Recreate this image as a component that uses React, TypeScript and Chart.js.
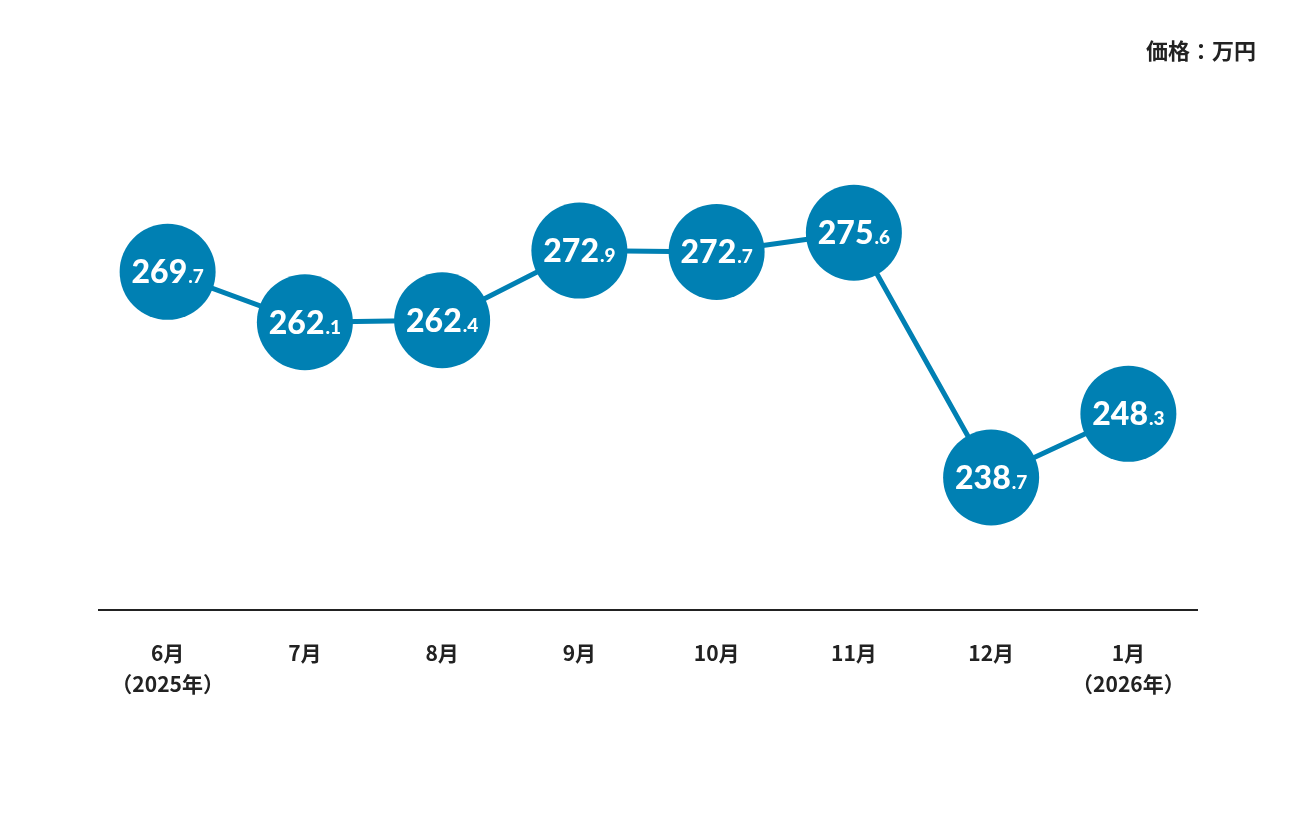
import React, { useEffect, useRef } from "react";
import { Chart, registerables } from "chart.js";

Chart.register(...registerables);

const months = ["6月", "7月", "8月", "9月", "10月", "11月", "12月", "1月"];
const yearNotes = ["（2025年）", "", "", "", "", "", "", "（2026年）"];
const prices = [269.7, 262.1, 262.4, 272.9, 272.7, 275.6, 238.7, 248.3];
const unitLabel = "価格：万円";

const BLUE = "#0080b3";
const TEXT = "#222222";
const JP = "'Noto Sans CJK JP', 'Noto Sans', sans-serif";
const NUM = "Lato, 'Noto Sans', sans-serif";

const labelsPlugin = {
  id: "valueLabels",
  afterDatasetsDraw(chart: any) {
    const ctx = chart.ctx;
    const meta = chart.getDatasetMeta(0);
    ctx.save();
    ctx.fillStyle = "#ffffff";
    ctx.textBaseline = "alphabetic";
    ctx.textAlign = "left";
    meta.data.forEach((pt: any, i: number) => {
      const s = prices[i].toFixed(1);
      const [ip, dp] = s.split(".");
      const big = "900 32px " + NUM;
      const small = "900 19px " + NUM;
      ctx.font = big;
      const w1 = ctx.measureText(ip).width;
      ctx.font = small;
      const w2 = ctx.measureText("." + dp).width;
      const x0 = pt.x - (w1 + w2 + 1) / 2;
      const base = pt.y + 11.5;
      ctx.font = big;
      ctx.fillText(ip, x0, base);
      ctx.font = small;
      ctx.fillText("." + dp, x0 + w1 + 1, base);
    });
    ctx.restore();
  },
};

const unitPlugin = {
  id: "unitLabel",
  afterDraw(chart: any) {
    const ctx = chart.ctx;
    ctx.save();
    ctx.fillStyle = TEXT;
    ctx.font = "bold 22px " + JP;
    ctx.textAlign = "right";
    ctx.textBaseline = "middle";
    ctx.fillText(unitLabel, 1256, 51);
    ctx.restore();
  },
};

export default function App() {
  const ref = useRef<HTMLCanvasElement | null>(null);
  useEffect(() => {
    if (!ref.current) return;
    const chart = new Chart(ref.current, {
      type: "line",
      data: {
        labels: months.map((m, i) => (yearNotes[i] ? [m, yearNotes[i]] : m)),
        datasets: [
          {
            data: prices,
            borderColor: BLUE,
            backgroundColor: BLUE,
            borderWidth: 5,
            pointRadius: 48,
            pointHoverRadius: 48,
            pointBorderWidth: 0,
            pointBackgroundColor: BLUE,
            tension: 0,
          },
        ],
      },
      options: {
        animation: false,
        responsive: false,
        maintainAspectRatio: false,
        events: [],
        layout: { padding: { left: 99, right: 99, top: 100, bottom: 86.5 } },
        plugins: {
          legend: { display: false },
          tooltip: { enabled: false },
          title: { display: false },
        },
        scales: {
          x: {
            offset: true,
            grid: { display: false, drawTicks: false },
            border: { display: true, color: "#222222", width: 2 },
            ticks: {
              color: TEXT,
              font: { family: JP, size: 21, weight: "bold", lineHeight: 1.43 },
              padding: 29,
              maxRotation: 0,
              autoSkip: false,
            },
            afterFit: (scale: any) => {
              scale.height = 120;
            },
          },
          y: {
            display: false,
            min: 218.8,
            max: 295.6,
          },
        },
      },
      plugins: [labelsPlugin, unitPlugin],
    });
    return () => chart.destroy();
  }, []);
  return (
    <div style={{ position: "fixed", left: 0, top: 0, width: 1296, height: 816, background: "#fff" }}>
      <canvas ref={ref} width={1296} height={816} style={{ width: 1296, height: 816 }} />
    </div>
  );
}
